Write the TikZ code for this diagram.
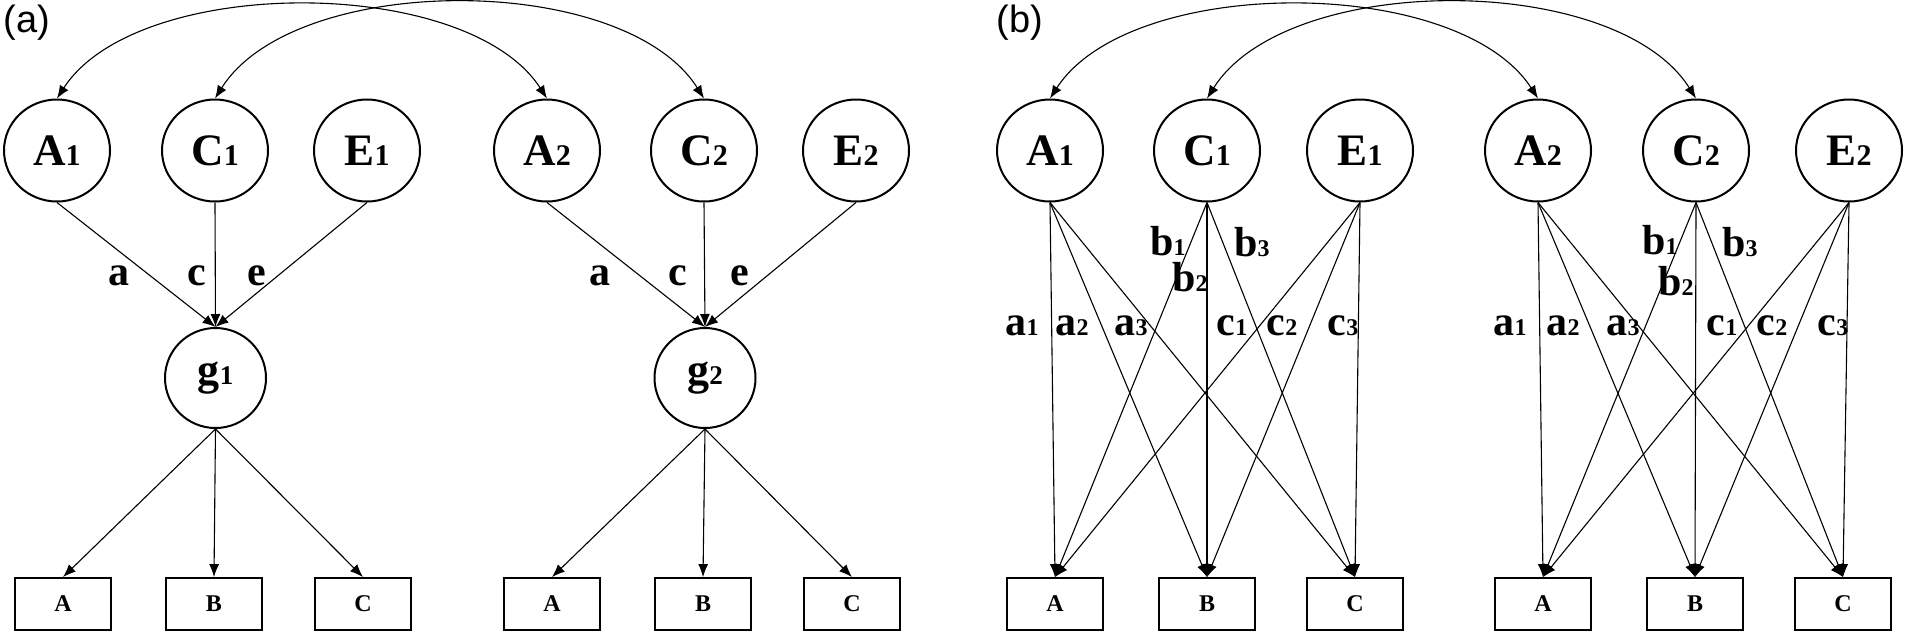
\documentclass[tikz,border=0pt]{standalone}
\usepackage{fontspec}
\setmainfont{Liberation Serif}
\setsansfont{Liberation Sans}
\usetikzlibrary{shapes.geometric,arrows.meta}
\newcommand{\latlab}[2]{{\fontsize{45}{45}\selectfont\bfseries #1}{\fontsize{30}{30}\selectfont\bfseries #2}}
\newcommand{\glab}[1]{\vphantom{A}{\fontsize{44}{44}\selectfont\bfseries g}{\fontsize{27}{27}\selectfont\bfseries #1}}
\newcommand{\pl}[2]{#1{\fontsize{24}{24}\selectfont #2}}
\begin{document}
\begin{tikzpicture}[x=1pt,y=-1pt,
  lat/.style={draw, ellipse, line width=2pt, minimum width=106pt, minimum height=102pt, inner sep=0pt},
  gl/.style={draw, ellipse, line width=2pt, minimum width=101pt, minimum height=100pt, inner sep=0pt},
  obs/.style={draw, rectangle, line width=1.8pt, minimum width=96pt, minimum height=52pt, inner sep=0pt, font=\fontsize{24}{24}\selectfont\bfseries},
  arr/.style={line width=1.1pt, -{Latex[length=13pt,width=10pt]}},
  darr/.style={line width=1.1pt, {Latex[length=13pt,width=10pt]}-{Latex[length=13pt,width=10pt]}},
  lbl/.style={anchor=base, inner sep=0pt, font=\fontsize{42}{42}\selectfont\bfseries},
  panel/.style={anchor=base, inner sep=0pt, font=\fontsize{38}{38}\selectfont\sffamily}
]
\useasboundingbox (0,0) rectangle (1906,633);

% ---------------- panel (a)
\node[panel] (pa) at (27,32) {(a)};
\node[lat] (aA1) at (57,150.5) {\latlab{A}{1}};
\node[lat] (aC1) at (215,150.5) {\latlab{C}{1}};
\node[lat] (aE1) at (367,150.5) {\latlab{E}{1}};
\node[lat] (aA2) at (547,150.5) {\latlab{A}{2}};
\node[lat] (aC2) at (704,150.5) {\latlab{C}{2}};
\node[lat] (aE2) at (856,150.5) {\latlab{E}{2}};
\node[gl] (ag1) at (215.5,378) {\glab{1}};
\node[gl] (ag2) at (705,378) {\glab{2}};
\node[obs] (aXA) at (63,604) {A};
\node[obs] (aXB) at (214,604) {B};
\node[obs] (aXC) at (363,604) {C};
\node[obs] (aYA) at (552,604) {A};
\node[obs] (aYB) at (703,604) {B};
\node[obs] (aYC) at (852,604) {C};

\draw[darr] (aA1.north) .. controls +(80,-124) and +(-80,-124) .. (aA2.north);
\draw[darr] (aC1.north) .. controls +(80,-127) and +(-80,-127) .. (aC2.north);

\foreach \s in {aA1,aC1,aE1} \draw[arr] (\s.south) -- (ag1.north);
\foreach \s in {aA2,aC2,aE2} \draw[arr] (\s.south) -- (ag2.north);
\foreach \t in {aXA,aXB,aXC} \draw[arr] (ag1.south) -- (\t.north);
\foreach \t in {aYA,aYB,aYC} \draw[arr] (ag2.south) -- (\t.north);

\node[lbl] (la1) at (118.5,285) {a};
\node[lbl] (lc1) at (197,285) {c};
\node[lbl] (le1) at (257,285) {e};
\node[lbl] (la2) at (600,285) {a};
\node[lbl] (lc2) at (678,285) {c};
\node[lbl] (le2) at (740,285) {e};

% ---------------- panel (b)
\node[panel] (pb) at (1020,32) {(b)};
\node[lat] (bA1) at (1050,150.5) {\latlab{A}{1}};
\node[lat] (bC1) at (1207,150.5) {\latlab{C}{1}};
\node[lat] (bE1) at (1360,150.5) {\latlab{E}{1}};
\node[lat] (bA2) at (1538,150.5) {\latlab{A}{2}};
\node[lat] (bC2) at (1696,150.5) {\latlab{C}{2}};
\node[lat] (bE2) at (1849,150.5) {\latlab{E}{2}};
\node[obs] (bXA) at (1055,604) {A};
\node[obs] (bXB) at (1207,604) {B};
\node[obs] (bXC) at (1355,604) {C};
\node[obs] (bYA) at (1543,604) {A};
\node[obs] (bYB) at (1695,604) {B};
\node[obs] (bYC) at (1843,604) {C};

\draw[darr] (bA1.north) .. controls +(80,-124) and +(-80,-124) .. (bA2.north);
\draw[darr] (bC1.north) .. controls +(80,-127) and +(-80,-127) .. (bC2.north);

\foreach \s in {bA1,bC1,bE1}
  \foreach \t in {bXA,bXB,bXC}
    \draw[arr] (\s.south) -- (\t.north);
\foreach \s in {bA2,bC2,bE2}
  \foreach \t in {bYA,bYB,bYC}
    \draw[arr] (\s.south) -- (\t.north);

\node[lbl] (ba1) at (1022,335) {\pl{a}{1}};
\node[lbl] (ba2) at (1072,335) {\pl{a}{2}};
\node[lbl] (ba3) at (1131,335) {\pl{a}{3}};
\node[lbl] (bc1) at (1232,335) {\pl{c}{1}};
\node[lbl] (bc2) at (1282,335) {\pl{c}{2}};
\node[lbl] (bc3) at (1343,335) {\pl{c}{3}};
\node[lbl] (bb1) at (1168,255) {\pl{b}{1}};
\node[lbl] (bb2) at (1190,291) {\pl{b}{2}};
\node[lbl] (bb3) at (1252,256) {\pl{b}{3}};

\node[lbl] (ca1) at (1510,335) {\pl{a}{1}};
\node[lbl] (ca2) at (1563,335) {\pl{a}{2}};
\node[lbl] (ca3) at (1623,335) {\pl{a}{3}};
\node[lbl] (cc1) at (1722,335) {\pl{c}{1}};
\node[lbl] (cc2) at (1772,335) {\pl{c}{2}};
\node[lbl] (cc3) at (1833,335) {\pl{c}{3}};
\node[lbl] (cb1) at (1660,254) {\pl{b}{1}};
\node[lbl] (cb2) at (1676,295) {\pl{b}{2}};
\node[lbl] (cb3) at (1740,256) {\pl{b}{3}};
\end{tikzpicture}
\end{document}
